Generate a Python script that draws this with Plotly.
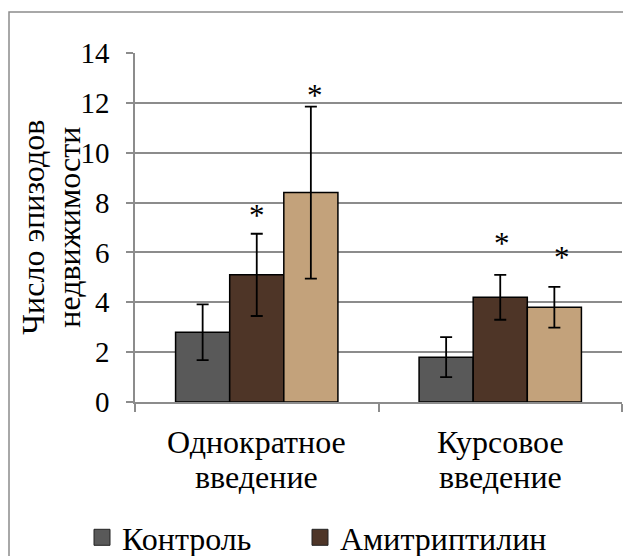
import plotly.graph_objects as go

# ---- data -------------------------------------------------------------
categories = ["Однократное введение", "Курсовое введение"]
series_names = ["Контроль", "Амитриптилин", "Группа 3"]

control = [2.8, 1.8]
control_err = [1.12, 0.8]
amitriptyline = [5.1, 4.2]
amitriptyline_err = [1.65, 0.9]
group3 = [8.4, 3.8]
group3_err = [3.45, 0.82]

# significance markers (* above the bar), per series / category
significant = [[False, False], [True, True], [True, True]]
# height of each "*" in axis units
star_height = [[0, 0], [7.5, 6.37], [12.31, 5.78]]

y_title_lines = ["Число эпизодов", "недвижимости"]
y_ticks = [0, 2, 4, 6, 8, 10, 12, 14]

# ---- styling ----------------------------------------------------------
W, H = 623, 556
L, R, T, B = 135, 1, 53, 154
plot_w = W - L - R
plot_h = H - T - B
FONT = "Times New Roman, Liberation Serif, serif"
GRAY = "#8c8c8c"
colors = ["#595959", "#4e3527", "#c3a27b"]


def px_to_paper_x(px):
    return (px - L) / plot_w


def px_to_paper_y(py):
    return (H - B - py) / plot_h


fig = go.Figure()

values = [control, amitriptyline, group3]
errors = [control_err, amitriptyline_err, group3_err]

for name, vals, errs, col in zip(series_names, values, errors, colors):
    fig.add_trace(go.Bar(
        x=categories, y=vals, name=name, showlegend=False,
        marker=dict(color=col, line=dict(color="black", width=1.5)),
        error_y=dict(type="data", array=errs, visible=True,
                     color="black", thickness=1.8, width=6),
    ))

# legend entries (square swatches), one legend box per entry
legend_ids = ["legend", "legend2"]
for name, col, lg in zip(series_names[:2], colors[:2], legend_ids):
    fig.add_trace(go.Scatter(
        x=[None], y=[None], mode="markers", name=name, legend=lg,
        marker=dict(symbol="square", size=16, color=col,
                    line=dict(color="#222222", width=1)),
    ))

annotations = []

# asterisks above the bars
bargap = 1 / 3
bar_px = plot_w / len(categories) * (1 - bargap) / len(series_names)
star_dx = [[0, 0], [0, 2], [4, 8]]
for i in range(len(series_names)):
    for j, cat in enumerate(categories):
        if significant[i][j]:
            annotations.append(dict(
                x=cat, y=star_height[i][j], xref="x", yref="y",
                text="*", showarrow=False,
                xshift=(i - 1) * bar_px + star_dx[i][j],
                font=dict(family=FONT, size=31, color="black"),
            ))

# two-line category labels
for cat in categories:
    first, second = cat.split(" ", 1)
    for txt, py in ((first, 442.2), (second, 477.2)):
        annotations.append(dict(
            x=cat, y=px_to_paper_y(py), xref="x", yref="paper",
            text=txt, showarrow=False, xanchor="center", yanchor="middle",
            font=dict(family=FONT, size=32, color="black"),
        ))

# two-line rotated y-axis title
for txt, px in zip(y_title_lines, (32.2, 68.2)):
    annotations.append(dict(
        x=px_to_paper_x(px), y=0.5, xref="paper", yref="paper",
        text=txt, showarrow=False, textangle=-90,
        xanchor="center", yanchor="middle",
        font=dict(family=FONT, size=32, color="black"),
    ))

# chart frame
fig.add_shape(
    type="rect", xref="paper", yref="paper",
    x0=px_to_paper_x(9), x1=px_to_paper_x(W + 20),
    y0=px_to_paper_y(H + 20), y1=px_to_paper_y(12),
    line=dict(color=GRAY, width=1.5), layer="below",
)

legend_style = dict(
    orientation="h", xanchor="left", yanchor="top", itemsizing="trace",
    font=dict(family=FONT, size=32, color="black"),
    bgcolor="rgba(0,0,0,0)", y=px_to_paper_y(510),
)

fig.update_layout(
    width=W, height=H,
    margin=dict(l=L, r=R, t=T, b=B, autoexpand=False),
    paper_bgcolor="white", plot_bgcolor="white",
    barmode="group", bargap=bargap, bargroupgap=0,
    font=dict(family=FONT, size=32, color="black"),
    xaxis=dict(
        type="category", showline=True, linecolor=GRAY, linewidth=1.5,
        ticks="outside", tickson="boundaries", ticklen=8,
        tickcolor=GRAY, tickwidth=1.5, showticklabels=False, showgrid=False,
    ),
    yaxis=dict(
        range=[0, 14], tickvals=y_ticks, showgrid=True, gridcolor=GRAY,
        gridwidth=1.5, showline=True, linecolor=GRAY, linewidth=1.5,
        ticks="outside", ticklen=7, tickcolor=GRAY, tickwidth=1.5,
        tickfont=dict(family=FONT, size=29, color="black"),
        ticklabelstandoff=11, zeroline=False,
    ),
    legend=dict(legend_style, x=px_to_paper_x(82)),
    legend2=dict(legend_style, x=px_to_paper_x(300)),
    annotations=annotations,
    showlegend=True,
)

fig.write_html("out.html")
